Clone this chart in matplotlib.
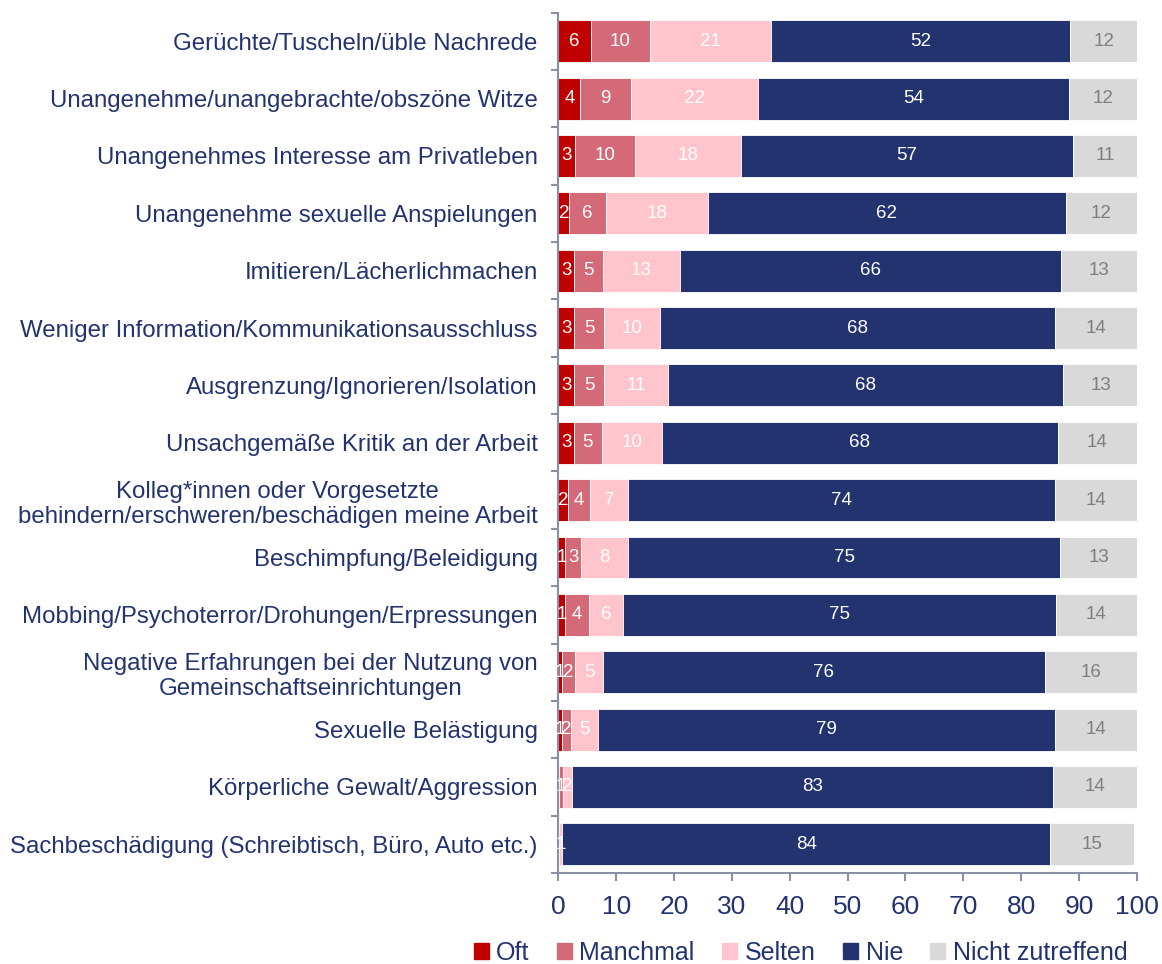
import numpy as np
import matplotlib
matplotlib.use("Agg")
from matplotlib import pyplot as plt
from matplotlib.patches import Patch

plt.rcParams['font.family'] = ['Liberation Sans', 'DejaVu Sans']

categories = [
    "Gerüchte/Tuscheln/üble Nachrede",
    "Unangenehme/unangebrachte/obszöne Witze",
    "Unangenehmes Interesse am Privatleben",
    "Unangenehme sexuelle Anspielungen",
    "Imitieren/Lächerlichmachen",
    "Weniger Information/Kommunikationsausschluss",
    "Ausgrenzung/Ignorieren/Isolation",
    "Unsachgemäße Kritik an der Arbeit",
    "Kolleg*innen oder Vorgesetzte\nbehindern/erschweren/beschädigen meine Arbeit",
    "Beschimpfung/Beleidigung",
    "Mobbing/Psychoterror/Drohungen/Erpressungen",
    "Negative Erfahrungen bei der Nutzung von\nGemeinschaftseinrichtungen",
    "Sexuelle Belästigung",
    "Körperliche Gewalt/Aggression",
    "Sachbeschädigung (Schreibtisch, Büro, Auto etc.)",
]

series_names = ["Oft", "Manchmal", "Selten", "Nie", "Nicht zutreffend"]

oft      = [5.6, 3.8, 2.9, 1.9, 2.7, 2.7, 2.7, 2.7, 1.6, 1.2, 1.2, 0.6, 0.6, 0.1, 0.0]
manchmal = [10.2, 8.8, 10.4, 6.3, 5.0, 5.2, 5.2, 4.8, 3.9, 2.8, 4.1, 2.3, 1.6, 0.7, 0.1]
selten   = [21.0, 22.0, 18.3, 17.6, 13.3, 9.6, 11.0, 10.4, 6.6, 8.0, 5.9, 4.8, 4.7, 1.6, 0.6]
nie      = [51.7, 53.7, 57.4, 62.0, 65.9, 68.3, 68.4, 68.4, 73.8, 74.8, 74.8, 76.4, 79.0, 83.2, 84.3]
nicht    = [11.6, 11.7, 11.0, 12.2, 13.1, 14.2, 12.9, 13.7, 14.1, 13.2, 14.0, 15.9, 14.1, 14.4, 14.6]

colors = ["#C00000", "#D46A78", "#FFC4CC", "#23336F", "#D9D9D9"]
label_colors = ["white", "white", "white", "white", "#7F7F7F"]
navy = "#23336F"
spine_col = "#8A8EA6"

fig = plt.figure(figsize=(11.62, 9.64), dpi=100)
ax = fig.add_axes([0.4805, 0.0944, 0.4978, 0.8926])

y = np.arange(len(categories))
left = np.zeros(len(categories))
for name, vals, col, lcol in zip(series_names, [oft, manchmal, selten, nie, nicht], colors, label_colors):
    vals = np.array(vals)
    ax.barh(y, vals, left=left, height=0.73, color=col, edgecolor="white", linewidth=0.6, label=name)
    for yi, (l, v) in enumerate(zip(left, vals)):
        n = int(v + 0.5)
        if n >= 1:
            ax.text(l + v / 2, yi, str(n), ha="center", va="center",
                    color=lcol, fontsize=13.5)
    left = left + vals

ax.set_xlim(0, 100)
ax.set_ylim(len(categories) - 0.5, -0.5)

# category labels, tick marks sit between the bars
ax.set_yticks(y)
ax.set_yticklabels(categories, multialignment="center", color=navy, fontsize=17.3)
ax.set_yticks(np.arange(-0.5, len(categories)), minor=True)
ax.tick_params(axis="y", which="major", length=0, pad=15)
ax.tick_params(axis="y", which="minor", length=5, width=1.5, color=spine_col)

ax.set_xticks(np.arange(0, 101, 10))
ax.tick_params(axis="x", length=6, width=1.5, color=spine_col, labelcolor=navy,
               labelsize=19, pad=10)

for s in ["top", "right"]:
    ax.spines[s].set_visible(False)
for s in ["left", "bottom"]:
    ax.spines[s].set_color(spine_col)
    ax.spines[s].set_linewidth(1.5)

handles = [Patch(color=c, label=n) for c, n in zip(colors, series_names)]
leg = fig.legend(handles=handles, loc="center", bbox_to_anchor=(0.689, 0.0115), ncol=5,
                 frameon=False, fontsize=18, handlelength=0.6, handleheight=0.6,
                 handletextpad=0.3, columnspacing=1.1, borderaxespad=0)
for t in leg.get_texts():
    t.set_color(navy)

fig.savefig("out.png", dpi=100)
